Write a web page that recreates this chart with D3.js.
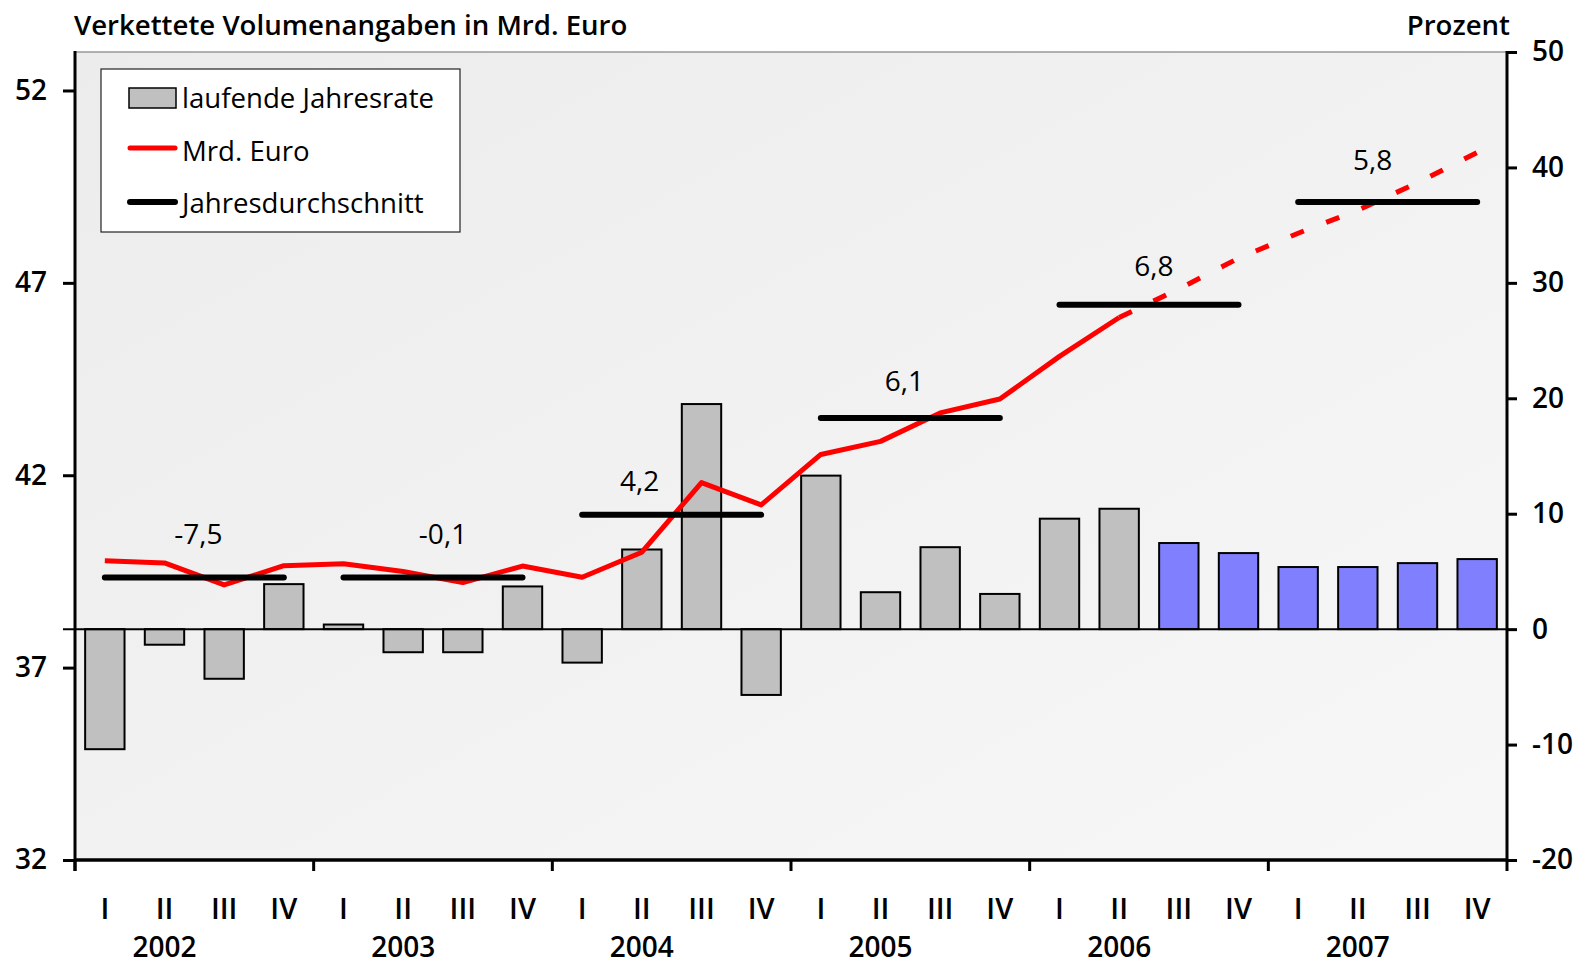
<!DOCTYPE html>
<html>
<head>
<meta charset="utf-8">
<script src="https://cdn.jsdelivr.net/npm/d3@7"></script>
<style>
  body { margin:0; background:#fff; }
  svg { display:block; }
</style>
</head>
<body>
<div class="chart"></div>
<script>
// data
var years = ["2002","2003","2004","2005","2006","2007"];
var quarters = ["I","II","III","IV"];
var rate = [-10.4,-1.35,-4.3,3.9,  0.4,-2.0,-2.0,3.7,  -2.9,6.9,19.5,-5.7,
            13.3,3.2,7.1,3.05,  9.57,10.43,7.46,6.59,  5.38,5.38,5.72,6.07];
var volume = [39.78,39.72,39.15,39.65,  39.70,39.50,39.21,39.64,  39.35,40.00,41.81,41.23,
              42.54,42.88,43.62,43.98,  45.09,46.10,46.84,47.64,  48.29,48.89,49.60,50.39];
var yearAvg = [39.34,39.34,40.97,43.49,46.43,49.10];
var yearAvgLabels = ["-7,5","-0,1","4,2","6,1","6,8","5,8"];
var forecastFrom = 17;   // line dashed from 2006 II on, bars blue after it
var leftTicks = [32,37,42,47,52];
var rightTicks = [-20,-10,0,10,20,30,40,50];
var legendItems = ["laufende Jahresrate","Mrd. Euro","Jahresdurchschnitt"];

// hand placement of the year labels (dx from year centre, gap above the line)
var labelNudge = [[4,34],[10,34],[-32,24],[-6,27],[5,29],[-15,32]];

var options = {
  className:'.chart',
  width:1581,
  height:965,
  left:75,
  right:1507,
  top:52,
  bottom:860,
  font:'"Open Sans", "Noto Sans", sans-serif',
  fontSize:27.6,
  tickFontSize:28,
  barColor:'#c0c0c0',
  forecastColor:'#8080ff',
  lineColor:'#ff0000'
};

function renderChart( options ){
  var svg = d3.select(options.className)
              .append("svg")
                .attr("width",options.width)
                .attr("height",options.height)
                .style("font-family",options.font);

  var keys = [];
  years.forEach(function(y){ quarters.forEach(function(q){ keys.push(y + " " + q); }); });

  var x = d3.scaleBand().domain(keys)
            .range([options.left,options.right])
            .paddingInner(0.34).paddingOuter(0.17);
  var cx = function(i){ return x(keys[i]) + x.bandwidth()/2; };
  var yL = d3.scaleLinear().domain([32,53]).range([options.bottom,options.top]);
  var yR = d3.scaleLinear().domain([-20,50]).range([options.bottom,options.top]);

  // plot background
  var grad = svg.append("defs").append("linearGradient")
                .attr("id","bg").attr("x1",0).attr("y1",0).attr("x2",1).attr("y2",1);
  grad.append("stop").attr("offset","0%").attr("stop-color","#ececec");
  grad.append("stop").attr("offset","100%").attr("stop-color","#f7f7f7");
  svg.append("rect")
     .attr("x",options.left).attr("y",options.top)
     .attr("width",options.right-options.left)
     .attr("height",options.bottom-options.top)
     .style("fill","url(#bg)");
  svg.append("line")
     .attr("x1",options.left).attr("x2",options.right)
     .attr("y1",options.top).attr("y2",options.top)
     .style("stroke","#999").style("stroke-width",1.5);

  // bars
  svg.selectAll(".bar")
     .data(rate)
     .enter().append("rect")
       .attr("class","bar")
       .attr("x",function(d,i){ return x(keys[i]); })
       .attr("width",x.bandwidth())
       .attr("y",function(d){ return yR(Math.max(0,d)); })
       .attr("height",function(d){ return Math.abs(yR(d)-yR(0)); })
       .style("fill",function(d,i){ return i > forecastFrom ? options.forecastColor : options.barColor; })
       .style("stroke","#000")
       .style("stroke-width",2);

  // zero line
  svg.append("line")
     .attr("x1",options.left-12).attr("x2",options.right)
     .attr("y1",yR(0)).attr("y2",yR(0))
     .style("stroke","#000").style("stroke-width",2);

  // volume line, solid then dashed forecast
  var line = d3.line()
               .x(function(d){ return cx(d.i); })
               .y(function(d){ return yL(d.v); });
  var pts = volume.map(function(v,i){ return {i:i,v:v}; });
  svg.append("path")
     .datum(pts.slice(0,forecastFrom+1))
     .attr("d",line)
     .style("fill","none").style("stroke",options.lineColor)
     .style("stroke-width",5).style("stroke-linejoin","round");
  svg.append("path")
     .datum(pts.slice(forecastFrom))
     .attr("d",line)
     .style("fill","none").style("stroke",options.lineColor)
     .style("stroke-width",5).style("stroke-dasharray","14,24");

  // annual averages
  svg.selectAll(".avg")
     .data(yearAvg)
     .enter().append("line")
       .attr("class","avg")
       .attr("x1",function(d,k){ return cx(k*4); })
       .attr("x2",function(d,k){ return cx(k*4+3); })
       .attr("y1",function(d){ return yL(d); })
       .attr("y2",function(d){ return yL(d); })
       .style("stroke","#000").style("stroke-width",6).style("stroke-linecap","round");
  svg.selectAll(".avgLabel")
     .data(yearAvg)
     .enter().append("text")
       .attr("class","avgLabel")
       .attr("x",function(d,k){ return (cx(k*4+1)+cx(k*4+2))/2 + labelNudge[k][0]; })
       .attr("y",function(d,k){ return yL(d) - labelNudge[k][1]; })
       .style("text-anchor","middle")
       .style("font-size",options.tickFontSize+"px")
       .text(function(d,k){ return yearAvgLabels[k]; });

  // left and right axes
  var gl = svg.append("g")
              .attr("transform","translate(" + options.left + ",0)")
              .call(d3.axisLeft(yL).tickValues(leftTicks).tickSize(12).tickPadding(16));
  var gr = svg.append("g")
              .attr("transform","translate(" + options.right + ",0)")
              .call(d3.axisRight(yR).tickValues(rightTicks).tickSize(10).tickPadding(15)
                      .tickFormat(function(d){ return String(d); }));
  [gl,gr].forEach(function(g){
    g.select(".domain").remove();
    g.selectAll(".tick line").style("stroke","#000").style("stroke-width",3);
    g.selectAll(".tick text").style("font-family",options.font)
     .style("font-size",options.tickFontSize+"px").style("font-weight",600).style("fill","#000");
  });
  [options.left,options.right].forEach(function(ax){
    svg.append("line")
       .attr("x1",ax).attr("x2",ax)
       .attr("y1",options.top-1).attr("y2",options.bottom+11)
       .style("stroke","#000").style("stroke-width",3);
  });

  // bottom axis
  svg.append("line")
     .attr("x1",options.left).attr("x2",options.right)
     .attr("y1",options.bottom).attr("y2",options.bottom)
     .style("stroke","#000").style("stroke-width",3.5);
  svg.selectAll(".ytick")
     .data(years)
     .enter().append("line")
       .attr("class","ytick")
       .attr("x1",function(d,k){ return x(keys[k*4]) - x.step()*x.paddingOuter(); })
       .attr("x2",function(d,k){ return x(keys[k*4]) - x.step()*x.paddingOuter(); })
       .attr("y1",options.bottom).attr("y2",options.bottom+11)
       .style("stroke","#000").style("stroke-width",3);
  svg.selectAll(".qlabel")
     .data(keys)
     .enter().append("text")
       .attr("class","qlabel")
       .attr("x",function(d,i){ return cx(i); })
       .attr("y",919)
       .style("text-anchor","middle")
       .style("font-size",(options.tickFontSize+1)+"px").style("font-weight",600)
       .text(function(d,i){ return quarters[i%4]; });
  svg.selectAll(".ylabel")
     .data(years)
     .enter().append("text")
       .attr("class","ylabel")
       .attr("x",function(d,k){ return cx(k*4+1); })
       .attr("y",957)
       .style("text-anchor","middle")
       .style("font-size",options.tickFontSize+"px").style("font-weight",600)
       .text(function(d){ return d; });

  // titles
  svg.append("text")
     .attr("x",74).attr("y",35)
     .style("font-size",options.fontSize+"px").style("font-weight",600)
     .text("Verkettete Volumenangaben in Mrd. Euro");
  svg.append("text")
     .attr("x",1510).attr("y",35)
     .style("text-anchor","end")
     .style("font-size",options.fontSize+"px").style("font-weight",600)
     .text("Prozent");

  // legend
  var lg = svg.append("g");
  lg.append("rect")
    .attr("x",101).attr("y",69).attr("width",359).attr("height",163)
    .style("fill","#fff").style("stroke","#222").style("stroke-width",1.2);
  lg.append("rect")
    .attr("x",129).attr("y",88).attr("width",47).attr("height",20)
    .style("fill",options.barColor).style("stroke","#000").style("stroke-width",1.5);
  lg.append("line")
    .attr("x1",130).attr("x2",175).attr("y1",148).attr("y2",148)
    .style("stroke",options.lineColor).style("stroke-width",5).style("stroke-linecap","round");
  lg.append("line")
    .attr("x1",130).attr("x2",175).attr("y1",202).attr("y2",202)
    .style("stroke","#000").style("stroke-width",6).style("stroke-linecap","round");
  lg.selectAll(".ltext")
    .data(legendItems)
    .enter().append("text")
      .attr("class","ltext")
      .attr("x",182)
      .attr("y",function(d,i){ return 108 + i*52.5; })
      .style("font-size",options.fontSize+"px")
      .text(function(d){ return d; });

  return svg;
}

var _chart = renderChart(options);
</script>
</body>
</html>
